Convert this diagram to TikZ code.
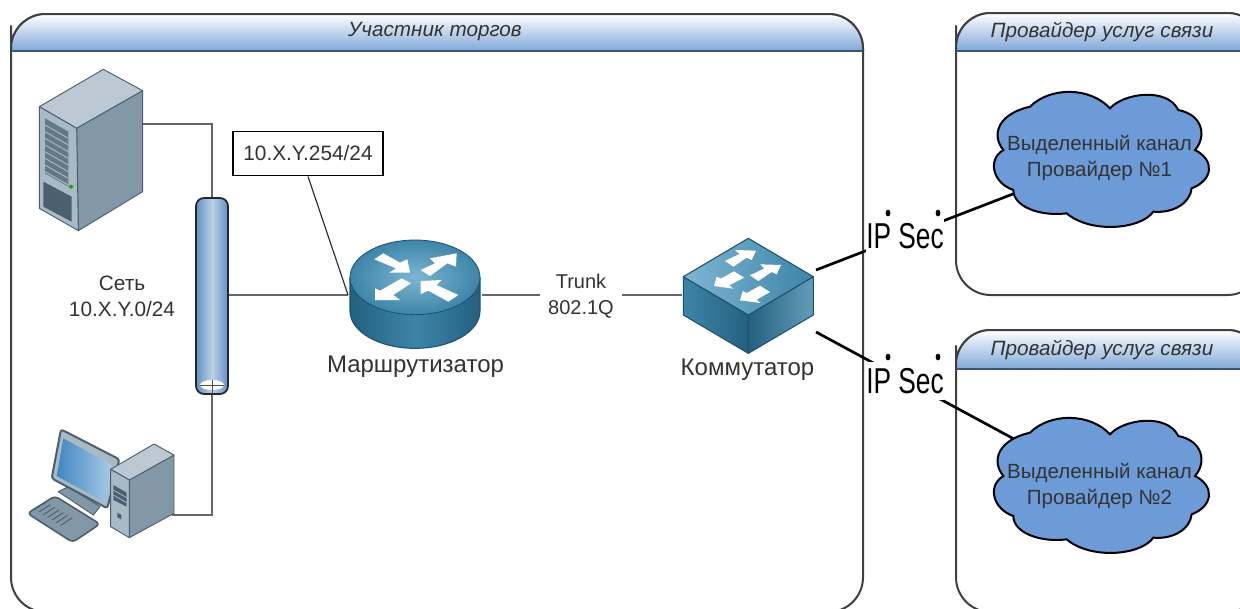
\documentclass[tikz,border=0pt]{standalone}
\usepackage{fontspec}
\usepackage{graphicx}
\setmainfont{Liberation Sans}
\definecolor{txt}{HTML}{333333}
\definecolor{wire}{HTML}{666666}
\definecolor{hdr}{HTML}{7FA8D8}
\definecolor{hdrline}{HTML}{3B5573}
\definecolor{cloudblue}{HTML}{6D9BD8}
\definecolor{devedge}{HTML}{4A6070}
\definecolor{tealdark}{HTML}{24607F}
\definecolor{tealmid}{HTML}{3D85A8}
\definecolor{teallight}{HTML}{7DB6D2}
\definecolor{tealedge}{HTML}{1E5270}
\definecolor{tubeside}{HTML}{5F93C6}
\definecolor{tubemid}{HTML}{BDD0E6}
\definecolor{screenA}{HTML}{3F86C2}
\definecolor{screenB}{HTML}{A9CAE6}
\definecolor{srvtop}{HTML}{BCC9D2}
\definecolor{srvfront}{HTML}{A8BAC5}
\definecolor{srvside}{HTML}{8398A6}
\tikzset{
  zm/.style 2 args={xshift=#1*0.75pt,yshift=-#2*0.75pt,x=.25pt,y=-.25pt},
  frameline/.style={draw=black!75,line width=1.5pt,rounded corners=26pt},
  hdrfill/.style={top color=white,bottom color=hdr,rounded corners=26pt},
  hdrrule/.style={draw=hdrline,line width=1.9pt},
  lan/.style={draw=wire,line width=2.1pt},
  vpn/.style={draw=black,line width=2pt},
  lbl/.style={text=txt,font=\fontsize{15.6}{19.5}\selectfont,align=center,inner sep=0pt},
  devlbl/.style={text=txt,font=\fontsize{18}{20}\selectfont,inner sep=0pt},
  hdrlbl/.style={text=txt,font=\fontsize{15.5}{18}\selectfont\itshape,inner sep=0pt},
  anchorbox/.style={inner sep=0pt,minimum height=1pt},
  ipsec/.style={fill=white,inner sep=0pt,minimum width=59pt,minimum height=28.5pt,text=black,font=\fontsize{27}{30}\selectfont},
  whitearrow/.style={fill=white},
  cloudshape/.style={fill=cloudblue,draw=black,line width=1.5pt},
  dev/.style={draw=devedge,line width=.7pt,line join=round},
  tealface/.style={draw=tealedge,line width=.8pt,line join=round},
}
\newcommand{\cloudpath}{(780,325) .. controls (820,280) and (950,260) .. (985,330)
  .. controls (1060,345) and (1070,410) .. (1035,450)
  .. controls (1095,480) and (1090,540) .. (1025,565)
  .. controls (1020,610) and (970,640) .. (910,635)
  .. controls (870,690) and (720,700) .. (650,640)
  .. controls (570,650) and (490,620) .. (490,570)
  .. controls (430,550) and (410,480) .. (460,450)
  .. controls (420,400) and (450,340) .. (540,320)
  .. controls (600,260) and (720,260) .. cycle}
\newcommand{\routerbody}{(60,172) -- (60,273) .. controls (60,335) and (147,385) .. (255,385) .. controls (363,385) and (450,335) .. (450,273) -- (450,172)}
\begin{document}
\begin{tikzpicture}[x=0.75pt,y=-0.75pt]
\clip (0,0) rectangle (1240,608);
\fill[white] (0,0) rectangle (1240,608);
% frames
\draw[frameline,fill=white] (11,60) -- (11,14) -- (863,14) -- (863,612) -- (11,612) -- cycle;
\shade[hdrfill] (11,51) -- (11,14) -- (863,14) -- (863,51);
\draw[frameline] (11,51) -- (11,14) -- (863,14) -- (863,51);
\draw[hdrrule] (11,51) -- (863,51);
\draw[frameline,fill=white] (956,60) -- (956,13) -- (1262,13) -- (1262,295) -- (956,295) -- cycle;
\shade[hdrfill] (956,51) -- (956,13) -- (1262,13) -- (1262,51);
\draw[frameline] (956,51) -- (956,13) -- (1262,13) -- (1262,51);
\draw[hdrrule] (956,51) -- (1262,51);
\draw[frameline,fill=white] (956,380) -- (956,330) -- (1262,330) -- (1262,612) -- (956,612) -- cycle;
\shade[hdrfill] (956,369) -- (956,330) -- (1262,330) -- (1262,369);
\draw[frameline] (956,369) -- (956,330) -- (1262,330) -- (1262,369);
\draw[hdrrule] (956,369) -- (1262,369);
\node[hdrlbl] (h0) at (435,32) {Участник торгов};
\node[hdrlbl] (h1) at (1102,32) {Провайдер услуг связи};
\node[hdrlbl] (h2) at (1102,350) {Провайдер услуг связи};
% anchors of devices
\node[anchorbox,minimum width=78pt] (server) at (91,124) {};
\node[anchorbox,minimum width=108pt] (pc) at (100,515) {};
\node[anchorbox,minimum width=24pt,minimum height=146pt] (tube) at (212,295) {};
\node[anchorbox,minimum width=100pt] (router) at (415,295) {};
\node[anchorbox,minimum width=99pt] (switch) at (748,295) {};
\coordinate (swa) at (816,270);
\coordinate (swb) at (816,332);
\coordinate (cloudA) at (1101,160);
\coordinate (cloudB) at (1101,486);
% connectors
\draw[lan] (server.east) -| (tube.north);
\draw[lan] (pc.east) -| (tube.south);
\draw[lan] (tube.east) -- (router.west);
\node[lbl,fill=white,minimum width=61pt,font=\fontsize{15}{19.5}\selectfont] (trunk) at (581,296) {Trunk\\802.1Q};
\draw[lan] (router.east) -- (trunk.west |- router.east);
\draw[lan] (trunk.east |- switch.west) -- (switch.west);
\draw[vpn] (swa) -- (cloudA);
\draw[vpn] (swb) -- (cloudB);
% clouds
\begin{scope}[zm={850}{0}] \draw[cloudshape] \cloudpath; \end{scope}
\begin{scope}[zm={850}{326}] \draw[cloudshape] \cloudpath; \end{scope}
\node[lbl,font=\fontsize{15.4}{20}\selectfont] (c1) at (1099.5,158) {Выделенный канал\\Провайдер №1};
\node[lbl,font=\fontsize{15.4}{19.5}\selectfont] (c2) at (1099.5,486.5) {Выделенный канал\\Провайдер №2};
% IP Sec
\node[ipsec] (ip1) at (905,236) {\scalebox{0.73}[1]{IP Sec}};
\node[ipsec] (ip2) at (905,381) {\scalebox{0.73}[1]{IP Sec}};
\foreach \dx/\dy in {888/213,938/213,888/357,938/357}
  \fill[black] (\dx,\dy) ellipse [x radius=2.4,y radius=3.4];
% address box
\node[lbl,draw=black,line width=1.4pt,fill=white,minimum width=112pt,minimum height=33pt] (addr) at (308,153.5) {10.X.Y.254/24};
\draw[draw=black!80,line width=.9pt] (addr.south) -- (router.west);
% network label
\node[lbl] (net) at (122,296) {Сеть\\10.X.Y.0/24};
% tube
\shade[left color=tubeside,right color=tubeside,middle color=tubemid,rounded corners=6pt] (196,198) rectangle (228,394);
\draw[draw=black!85,line width=1.3pt,rounded corners=6pt] (196,394) rectangle (228,198);
\fill[white] (212,385) ellipse [x radius=12,y radius=5];
\draw[draw=black!70,line width=.7pt] (212,380) -- (212,394) (200,385) -- (224,385);
% router
\begin{scope}[zm={330}{220}]
\shade[left color=tealdark,right color=tealdark,middle color=tealmid] \routerbody -- cycle;
\draw[tealface] \routerbody;
\shade[inner color=teallight,outer color=tealmid,draw=tealedge,line width=.6pt] (255,172) ellipse [x radius=195,y radius=112];
\fill[whitearrow] (133,118) -- (160,100) -- (210,128) -- (232,118) -- (240,158) -- (178,158) -- (198,145) -- cycle;
\fill[whitearrow] (272,150) -- (315,130) -- (300,115) -- (380,100) -- (378,140) -- (352,130) -- (300,168) -- cycle;
\fill[whitearrow] (135,205) -- (150,212) -- (215,175) -- (243,190) -- (190,225) -- (210,240) -- (135,240) -- cycle;
\fill[whitearrow] (272,183) -- (335,180) -- (320,195) -- (385,225) -- (355,245) -- (295,212) -- (272,222) -- cycle;
\end{scope}
% switch
\begin{scope}[zm={670}{230}]
\shade[left color=tealmid,right color=tealdark,tealface] (40,140) -- (235,255) -- (235,370) -- (40,255) -- cycle;
\shade[left color=tealdark,right color=tealmid!80!white,tealface] (235,255) -- (430,140) -- (430,255) -- (235,370) -- cycle;
\shade[left color=teallight,right color=tealmid,tealface] (235,25) -- (430,140) -- (235,255) -- (40,140) -- cycle;
\fill[whitearrow] (165,93) -- (208,72) -- (195,60) -- (258,62) -- (245,90) -- (230,83) -- (190,110) -- cycle;
\fill[whitearrow] (192,124) -- (152,146) -- (140,140) -- (132,168) -- (190,176) -- (178,166) -- (222,143) -- cycle;
\fill[whitearrow,shift={(240,136)}] (0,0) -- (43,-21) -- (30,-33) -- (93,-31) -- (80,-3) -- (65,-10) -- (25,17) -- cycle;
\fill[whitearrow,shift={(270,167)}] (0,0) -- (-40,22) -- (-52,16) -- (-60,44) -- (2,52) -- (-10,42) -- (30,19) -- cycle;
\end{scope}
% server
\begin{scope}[zm={0}{50}]
\draw[dev,fill=srvtop] (310,58) -- (428,122) -- (230,235) -- (118,170) -- cycle;
\draw[dev,fill=srvside] (230,235) -- (428,122) -- (428,425) -- (235,542) -- cycle;
\draw[dev,fill=srvfront] (118,170) -- (230,235) -- (235,542) -- (118,475) -- cycle;
\fill[devedge!85!white] (135,205) -- (205,245) -- (205,410) -- (135,370) -- cycle;
\foreach \k in {0,1,2,3,4,5,6,7}
  \draw[srvfront,line width=.7pt] (135,225+\k*20) -- (205,265+\k*20);
\fill[devedge] (130,395) -- (215,440) -- (215,515) -- (130,470) -- cycle;
\fill[green!70!black] (213,410) circle [radius=6];
\end{scope}
% pc
\begin{scope}[zm={0}{370}]
\draw[dev,fill=srvside] (175,365) -- (205,350) -- (300,410) -- (280,435) -- cycle;
\draw[dev,fill=srvfront,line width=1.5pt,rounded corners=2pt] (183,178) -- (358,268) -- (322,415) -- (155,325) -- cycle;
\shade[left color=screenA,right color=screenB] (190,205) -- (335,285) -- (318,398) -- (170,318) -- cycle;
\draw[dev,fill=srvside,line width=1.2pt,rounded corners=3pt] (82,430) -- (165,378) -- (300,462) -- (218,517) -- cycle;
\foreach \k in {0,1,2,3,4,5,6}
  \draw[devedge,line width=.7pt] (138+\k*13,396+\k*8) -- (104+\k*13,418+\k*8);
\draw[dev,fill=srvside] (388,330) -- (522,255) -- (522,430) -- (388,503) -- cycle;
\draw[dev,fill=srvtop] (462,222) -- (522,255) -- (388,330) -- (332,298) -- cycle;
\draw[dev,fill=srvfront] (332,298) -- (388,330) -- (388,503) -- (332,470) -- cycle;
\fill[devedge] (340,345) -- (380,368) -- (380,410) -- (340,390) -- cycle;
\draw[srvfront,line width=.6pt] (340,360) -- (380,383) (340,375) -- (380,398);
\fill[devedge] (352,428) -- (364,435) -- (364,448) -- (352,442) -- cycle;
\end{scope}
% device labels
\node[devlbl] (lr) at (415.5,367) {Маршрутизатор};
\node[devlbl] (ls) at (747.5,370) {Коммутатор};
\end{tikzpicture}
\end{document}
